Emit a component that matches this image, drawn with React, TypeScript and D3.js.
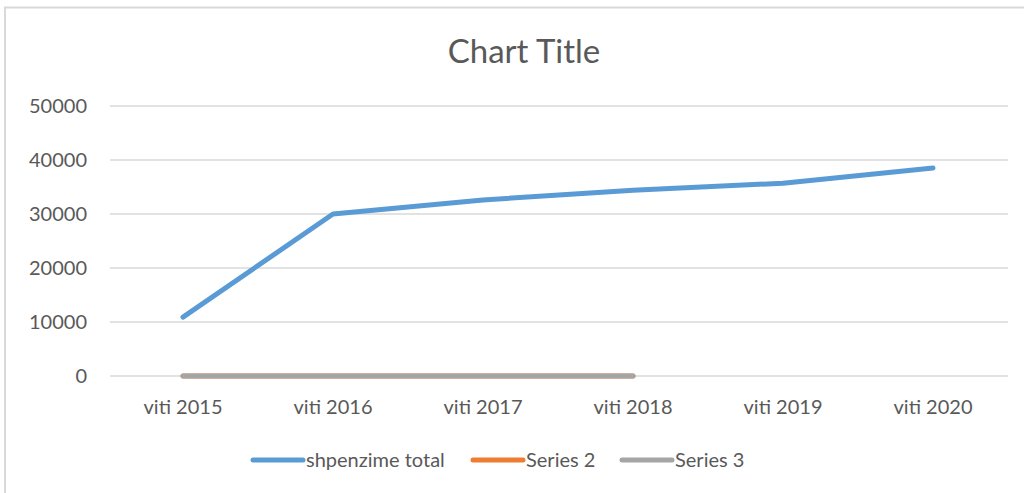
import React from "react";
import * as d3 from "d3";

const categories = ["viti 2015", "viti 2016", "viti 2017", "viti 2018", "viti 2019", "viti 2020"];
const shpenzimeTotal = [10900, 30000, 32600, 34400, 35700, 38500];
const series2 = [0, 0, 0, 0];
const series3 = [0, 0, 0, 0];
const yTicks = [0, 10000, 20000, 30000, 40000, 50000];

const W = 1024;
const H = 493;
const margin = { top: 106, right: 16, bottom: 117, left: 108 };
const font = "Lato, 'Open Sans', sans-serif";

export default function App() {
  const x = d3
    .scaleBand<string>()
    .domain(categories)
    .range([margin.left, W - margin.right]);
  const y = d3
    .scaleLinear()
    .domain([0, 50000])
    .range([H - margin.bottom, margin.top]);

  const cx = (i: number) => (x(categories[i]) as number) + x.bandwidth() / 2;
  const line = d3
    .line<number>()
    .x((_, i) => cx(i))
    .y((d) => y(d));

  const series = [
    { name: "shpenzime total", values: shpenzimeTotal, color: "#5b9bd5" },
    { name: "Series 2", values: series2, color: "#ed7d31" },
    { name: "Series 3", values: series3, color: "#a5a5a5" },
  ];
  const legendX = [253, 473, 622];

  return (
    <svg
      width={W}
      height={H}
      style={{ position: "absolute", left: 0, top: 0, background: "#fff" }}
    >
      <text
        x={20}
        y={-5}
        fontFamily="'Liberation Serif', serif"
        fontSize={21}
        fill="#000"
      >
        tabela e shpenzimeve të cilat paraqiten në vijim përmes grafikut të dhënë
      </text>
      <rect
        x={5}
        y={7.5}
        width={W + 20}
        height={H + 20}
        fill="#fff"
        stroke="#d9d9d9"
        strokeWidth={2}
      />
      <text
        x={524}
        y={63}
        textAnchor="middle"
        fontFamily={font}
        fontSize={33}
        fill="#595959"
      >
        Chart Title
      </text>
      {yTicks.map((t) => (
        <g key={t}>
          <line
            x1={margin.left + 2}
            x2={W - margin.right}
            y1={y(t)}
            y2={y(t)}
            stroke="#d9d9d9"
            strokeWidth={1.5}
          />
          <text
            x={87}
            y={y(t) + 7}
            textAnchor="end"
            fontFamily={font}
            fontSize={20}
            fill="#595959"
          >
            {t}
          </text>
        </g>
      ))}
      {categories.map((c, i) => (
        <text
          key={c}
          x={cx(i)}
          y={414}
          textAnchor="middle"
          fontFamily={font}
          fontSize={20}
          fill="#595959"
        >
          {c}
        </text>
      ))}
      {series.map((s) => (
        <path
          key={s.name}
          d={line(s.values) || ""}
          fill="none"
          stroke={s.color}
          strokeWidth={5}
          strokeLinecap="round"
          strokeLinejoin="round"
        />
      ))}
      {series.map((s, i) => (
        <g key={s.name}>
          <line
            x1={legendX[i]}
            x2={legendX[i] + 50}
            y1={460}
            y2={460}
            stroke={s.color}
            strokeWidth={5}
            strokeLinecap="round"
          />
          <text
            x={legendX[i] + 53}
            y={467}
            fontFamily={font}
            fontSize={20}
            fill="#595959"
          >
            {s.name}
          </text>
        </g>
      ))}
    </svg>
  );
}
